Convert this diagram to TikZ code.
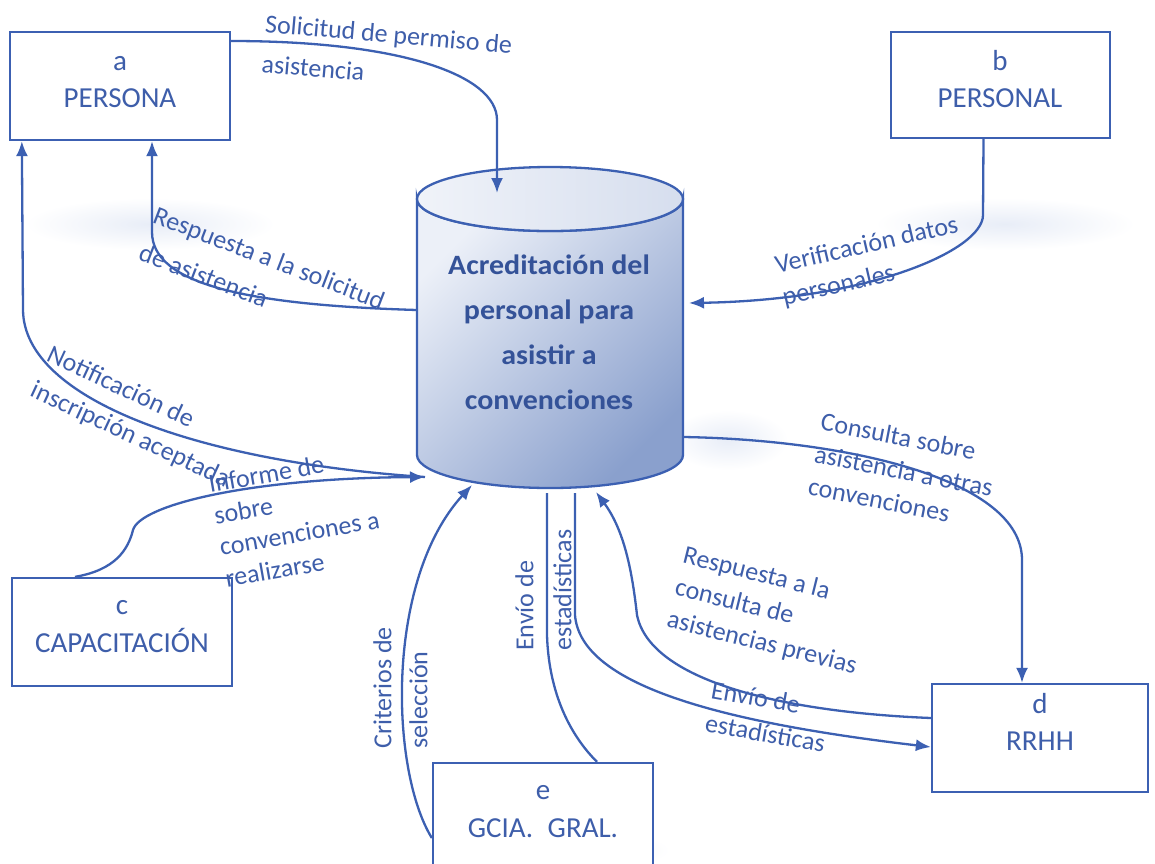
\documentclass[tikz,border=0pt]{standalone}
\usepackage{fontspec}
\setmainfont{Carlito}
\newfontfamily\storefont[FakeStretch=1.07]{Carlito}
\usetikzlibrary{arrows.meta,calc}

\definecolor{flow}{RGB}{60,96,178}
\definecolor{ink}{RGB}{62,94,170}
\definecolor{storeink}{RGB}{52,82,152}
\definecolor{storelight}{RGB}{236,240,248}
\definecolor{storedark}{RGB}{138,160,205}
\definecolor{lidleft}{RGB}{240,243,249}
\definecolor{lidright}{RGB}{214,222,238}
\definecolor{haze}{RGB}{232,237,247}

\begin{document}
\begin{tikzpicture}[x=1pt,y=-1pt,
  entity/.style={draw=flow, line width=2.3pt, inner sep=0pt, fill=white},
  entname/.style={text=ink, font=\fontsize{29}{33}\selectfont, anchor=base, inner sep=0pt},
  flowline/.style={draw=flow, line width=2.3pt},
  arrowed/.style={flowline, -{Latex[length=15pt,width=12pt]}},
  flowlabel/.style={text=ink, font=\fontsize{26}{#1}\selectfont, align=left,
                    anchor=north west, inner sep=0pt},
  flowlabel/.default=39,
  storetext/.style={text=storeink, align=center, inner sep=0pt,
                    font=\storefont\bfseries\fontsize{28}{45}\selectfont},
  softglow/.style={inner color=haze, outer color=white}]

% page
\useasboundingbox (0,0) rectangle (1155,863);
\fill[white] (0,0) rectangle (1155,863);

% soft glows behind some of the flows
\shade[softglow] (150,224) ellipse[x radius=125, y radius=26];
\shade[softglow] (1005,224) ellipse[x radius=130, y radius=26];
\shade[softglow] (728,440) ellipse[x radius=60, y radius=30];
\shade[softglow] (560,850) ellipse[x radius=110, y radius=22];

% external entities
\node[entity, minimum width=220pt, minimum height=108pt] (a) at (120,86) {};
\node[entname] (a-id) at (120,70) {a};
\node[entname] (a-nm) at (120,107) {PERSONA};

\node[entity, minimum width=219pt, minimum height=106pt] (b) at (1000.5,85) {};
\node[entname] (b-id) at (1000,70) {b};
\node[entname] (b-nm) at (1000,107) {PERSONAL};

\node[entity, minimum width=220pt, minimum height=108pt] (c) at (122,632) {};
\node[entname] (c-id) at (122,614) {c};
\node[entname] (c-nm) at (122,652) {CAPACITACIÓN};

\node[entity, minimum width=216pt, minimum height=108pt] (d) at (1040,738) {};
\node[entname] (d-id) at (1040,713) {d};
\node[entname] (d-nm) at (1040,750) {RRHH};

\node[entity, minimum width=220pt, minimum height=117pt] (e) at (543,821.5) {};
\node[entname] (e-id) at (543,799) {e};
\node[entname] (e-nm) at (543,837) {GCIA.\enspace GRAL.};

% data store (cylinder)
\shadedraw[top color=storelight, bottom color=storedark, shading angle=45,
           draw=flow, line width=2.3pt]
  (417,199) -- (417,455) arc[start angle=180, end angle=0, x radius=133, y radius=33]
  -- (683,199) arc[start angle=0, end angle=180, x radius=133, y radius=32] -- cycle;
\shadedraw[left color=lidleft, right color=lidright, draw=flow, line width=2.3pt]
  (550,199) ellipse[x radius=133, y radius=32];
\node[storetext] (store) at (549,332)
  {Acreditación del\\personal para\\asistir a\\convenciones};

% attachment points on the store
\coordinate (st-top) at (497,193);
\coordinate (st-w1)  at (417,310);
\coordinate (st-w2)  at (425,477);
\coordinate (st-e1)  at (689,303);
\coordinate (st-e2)  at (684,437);
\coordinate (st-b1)  at (472,485);
\coordinate (st-b2)  at (547,493);
\coordinate (st-b3)  at (575,493);
\coordinate (st-b4)  at (596,492);

% data flows
\draw[arrowed] ([yshift=45pt]a.east) .. controls (400,41) and (497,75) .. (497,120) -- (st-top);
\draw[arrowed] (st-w1) .. controls (250,305) and (152,285) .. (152,232) -- ([xshift=32pt]a.south);
\draw[arrowed] (st-w2) .. controls (200,462) and (24,400) .. (23,310) -- ([xshift=13pt]a.south west);
\draw[arrowed] ([xshift=-47pt]c.north) .. controls (115,570) and (128,550) .. (133,530)
  .. controls (140,505) and (250,478) .. (st-w2);
\draw[arrowed] ([xshift=-17pt]b.south) -- (983,215) .. controls (983,250) and (870,300) .. (st-e1);
\draw[arrowed] (st-e2) .. controls (850,440) and (1022,480) .. (1022,560) -- ([xshift=-18pt]d.north);
\draw[arrowed] ([yshift=20pt]d.west) .. controls (780,712) and (650,680) .. (637,615)
  .. controls (632,570) and (624,530) .. (st-b4);
\draw[arrowed] (st-b3) -- (575,615) .. controls (580,680) and (700,720) .. ([yshift=-9pt]d.west);
\draw[flowline] (st-b2) -- (547,635) .. controls (549,700) and (575,740) .. ([xshift=54pt]e.north);
\draw[arrowed] ([yshift=-16.5pt]e.west) .. controls (390,770) and (385,580) .. (st-b1);

% flow labels
\node[flowlabel=40, rotate=-5]  (l-sol)  at (266,14)  {Solicitud de permiso de\\asistencia};
\node[flowlabel=40, rotate=-21] (l-resp) at (158,205) {Respuesta a la solicitud\\de asistencia};
\node[flowlabel=39, rotate=-25] (l-not)  at (53,344)  {Notificación de\\inscripción aceptada};
\node[flowlabel=32, rotate=10]  (l-inf)  at (207,475) {Informe de\\sobre\\convenciones a\\realizarse};
\node[flowlabel=33, rotate=13]  (l-ver)  at (773,256) {Verificación datos\\personales};
\node[flowlabel=33, rotate=-11] (l-con)  at (823,412) {Consulta sobre\\asistencia a otras\\convenciones};
\node[flowlabel=33, rotate=-14] (l-rcon) at (686,545) {Respuesta a la\\consulta de\\asistencias previas};
\node[flowlabel=34, rotate=-10] (l-env1) at (713,680) {Envío de\\estadísticas};
\node[flowlabel=38, rotate=90]  (l-env2) at (515,651) {Envío de\\estadísticas};
\node[flowlabel=36, rotate=90]  (l-crit) at (373,749) {Criterios de\\selección};
\end{tikzpicture}
\end{document}
